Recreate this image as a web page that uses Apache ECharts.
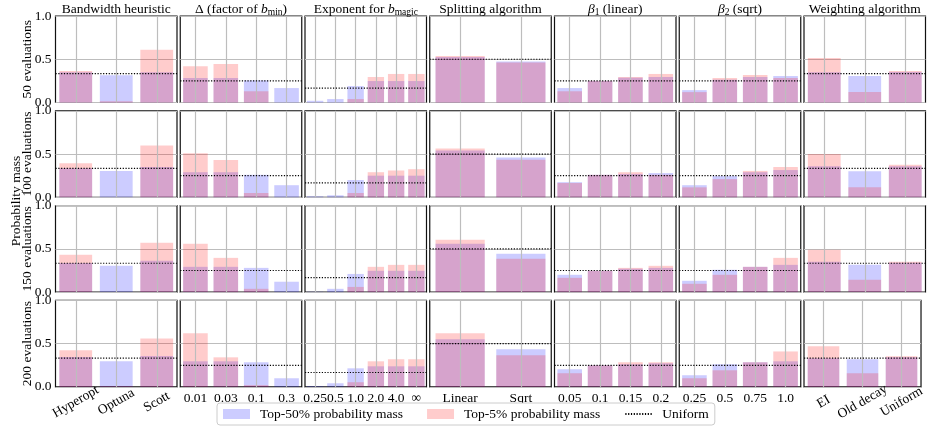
<!DOCTYPE html>
<html><head><meta charset="utf-8">
<script src="https://cdn.jsdelivr.net/npm/echarts@6/dist/echarts.min.js"></script>
<style>html,body{margin:0;padding:0;background:#fff}#c{width:927px;height:431px}</style>
</head><body><div id="c"></div>
<script>
const FONT = '"Liberation Serif", "Times New Roman", serif';
const rowLabels = ['50 evaluations', '100 evaluations', '150 evaluations', '200 evaluations'];

const bandwidthCats = ['Hyperopt', 'Optuna', 'Scott'];
const deltaCats = ['0.01', '0.03', '0.1', '0.3'];
const exponentCats = ['0.25', '0.5', '1.0', '2.0', '4.0', '∞'];
const splitCats = ['Linear', 'Sqrt'];
const beta1Cats = ['0.05', '0.1', '0.15', '0.2'];
const beta2Cats = ['0.25', '0.5', '0.75', '1.0'];
const weightCats = ['EI', 'Old decay', 'Uniform'];

// Top-50% probability mass, one row per evaluation budget (50,100,150,200)
const bandwidthTop50 = [[0.35, 0.315, 0.35], [0.335, 0.305, 0.35], [0.335, 0.304, 0.362], [0.346, 0.296, 0.358]];
const deltaTop50 = [[0.283, 0.283, 0.256, 0.167], [0.29, 0.29, 0.26, 0.14], [0.292, 0.292, 0.28, 0.12], [0.296, 0.296, 0.285, 0.10]];
const exponentTop50 = [[0.02, 0.04, 0.19, 0.248, 0.248, 0.248], [0.012, 0.023, 0.2, 0.25, 0.25, 0.25], [0.005, 0.038, 0.21, 0.246, 0.246, 0.246], [0.01, 0.042, 0.215, 0.238, 0.238, 0.238]];
const splitTop50 = [[0.527, 0.473], [0.54, 0.46], [0.558, 0.442], [0.55, 0.435]];
const beta1Top50 = [[0.167, 0.25, 0.287, 0.295], [0.175, 0.26, 0.27, 0.28], [0.2, 0.246, 0.27, 0.28], [0.204, 0.25, 0.262, 0.273]];
const beta2Top50 = [[0.143, 0.264, 0.295, 0.306], [0.14, 0.245, 0.29, 0.315], [0.131, 0.258, 0.292, 0.315], [0.135, 0.262, 0.285, 0.296]];
const weightTop50 = [[0.35, 0.306, 0.353], [0.36, 0.30, 0.36], [0.35, 0.315, 0.338], [0.33, 0.32, 0.342]];

// Top-5% probability mass
const bandwidthTop5 = [[0.365, 0.015, 0.61], [0.395, 0, 0.6], [0.431, 0, 0.57], [0.423, 0.008, 0.56]];
const deltaTop5 = [[0.42, 0.446, 0.13, 0], [0.51, 0.43, 0.05, 0], [0.558, 0.396, 0.038, 0], [0.62, 0.342, 0.02, 0]];
const exponentTop5 = [[0, 0, 0.04, 0.295, 0.33, 0.33], [0, 0, 0.05, 0.29, 0.31, 0.325], [0, 0, 0.06, 0.292, 0.315, 0.315], [0, 0, 0.054, 0.296, 0.32, 0.32]];
const splitTop5 = [[0.539, 0.461], [0.565, 0.435], [0.604, 0.385], [0.62, 0.365]];
const beta1Top5 = [[0.13, 0.25, 0.295, 0.33], [0.165, 0.26, 0.29, 0.26], [0.165, 0.246, 0.28, 0.304], [0.158, 0.25, 0.285, 0.285]];
const beta2Top5 = [[0.12, 0.283, 0.318, 0.283], [0.115, 0.21, 0.305, 0.35], [0.096, 0.2, 0.292, 0.396], [0.1, 0.192, 0.285, 0.41]];
const weightTop5 = [[0.515, 0.12, 0.364], [0.5, 0.115, 0.375], [0.49, 0.142, 0.35], [0.47, 0.158, 0.354]];

// Uniform reference level per panel
const uniformLevels = [1 / 3, 1 / 4, 1 / 6, 1 / 2, 1 / 4, 1 / 4, 1 / 3];

const panelTitles = [
  'Bandwidth heuristic',
  'Δ (factor of {i|b}{s|min})',
  'Exponent for {i|b}{s|magic}',
  'Splitting algorithm',
  '{i|β}{s|1} (linear)',
  '{i|β}{s|2} (sqrt)',
  'Weighting algorithm'
];

const panels = [
  { cats: bandwidthCats, top50: bandwidthTop50, top5: bandwidthTop5, rotate: true },
  { cats: deltaCats, top50: deltaTop50, top5: deltaTop5 },
  { cats: exponentCats, top50: exponentTop50, top5: exponentTop5 },
  { cats: splitCats, top50: splitTop50, top5: splitTop5 },
  { cats: beta1Cats, top50: beta1Top50, top5: beta1Top5 },
  { cats: beta2Cats, top50: beta2Top50, top5: beta2Top5 },
  { cats: weightCats, top50: weightTop50, top5: weightTop5, rotate: true }
];

const COL_LEFT0 = 55.5, COL_STEP = 124.75, COL_W = 121.5;
const ROW_TOP0 = 16, ROW_STEP = 94.8, ROW_H = 86.5;

const grids = [], xAxes = [], yAxes = [], series = [], titles = [], graphics = [];
const richSub = {
  i: { fontFamily: FONT, fontSize: 13.5, fontStyle: 'italic', color: '#000', lineHeight: 16 },
  s: { fontFamily: FONT, fontSize: 9.5, color: '#000', lineHeight: 9, verticalAlign: 'bottom' }
};

panels.forEach((p, c) => {
  titles.push({
    text: panelTitles[c],
    left: COL_LEFT0 + c * COL_STEP + COL_W / 2,
    top: 1,
    textAlign: 'center',
    padding: 0,
    textStyle: { fontFamily: FONT, fontSize: 13.5, fontWeight: 'normal', color: '#000', lineHeight: 16, rich: richSub }
  });
  for (let r = 0; r < 4; r++) {
    const g = grids.length;
    grids.push({
      left: COL_LEFT0 + c * COL_STEP, top: ROW_TOP0 + r * ROW_STEP,
      width: COL_W, height: ROW_H,
      show: true, borderColor: '#111', borderWidth: 1.2, backgroundColor: 'transparent'
    });
    const bottom = r === 3;
    xAxes.push({
      type: 'category', gridIndex: g, data: p.cats,
      axisLine: { show: false }, axisTick: { show: false }, splitLine: { show: false },
      axisLabel: p.rotate ? {
        show: bottom, interval: 0, rotate: 30, align: 'center', verticalAlign: 'middle', margin: 15,
        fontFamily: FONT, fontSize: 13.5, color: '#000', hideOverlap: false
      } : {
        show: bottom, interval: 0, margin: 5, fontFamily: FONT, fontSize: 13.5, color: '#000', hideOverlap: false
      }
    });
    xAxes.push({ type: 'value', gridIndex: g, min: 0, max: 1, show: false });
    yAxes.push({
      type: 'value', gridIndex: g, min: 0, max: 1, interval: 0.5,
      axisLine: { show: false }, axisTick: { show: false },
      axisLabel: { show: c === 0, formatter: v => v.toFixed(1), fontFamily: FONT, fontSize: 13.5, color: '#000', margin: 4 },
      splitLine: { show: true, lineStyle: { color: '#bdbdbd', width: 1.2 } }
    });
    series.push({
      type: 'bar', name: 'Top-50% probability mass', xAxisIndex: 2 * g, yAxisIndex: g,
      data: p.top50[r], barCategoryGap: '19%', barGap: '-100%',
      itemStyle: { color: 'rgba(0,0,255,0.2)' }, silent: true,
      markLine: {
        silent: true, symbol: ['none', 'none'], label: { show: false },
        lineStyle: { color: '#bdbdbd', width: 1.2, type: 'solid' },
        data: p.cats.map(cat => ({ xAxis: cat }))
      }
    });
    series.push({
      type: 'bar', name: 'Top-5% probability mass', xAxisIndex: 2 * g, yAxisIndex: g,
      data: p.top5[r], barCategoryGap: '19%', barGap: '-100%',
      itemStyle: { color: 'rgba(255,0,0,0.2)' }, silent: true
    });
    series.push({
      type: 'line', name: 'Uniform', xAxisIndex: 2 * g + 1, yAxisIndex: g,
      data: [[0, uniformLevels[c]], [1, uniformLevels[c]]],
      symbol: 'none', showSymbol: false, silent: true, z: 5,
      itemStyle: { color: '#000', opacity: 0 },
      lineStyle: { color: '#000', width: 1.2, type: [1.2, 1.6], opacity: 1 }
    });
  }
});

rowLabels.forEach((lbl, r) => {
  graphics.push({
    type: 'text', x: 27.5, y: ROW_TOP0 + r * ROW_STEP + ROW_H / 2, rotation: Math.PI / 2,
    style: { text: lbl, font: '13.5px ' + FONT, fill: '#000', textAlign: 'center', textVerticalAlign: 'middle' }
  });
});
graphics.push({
  type: 'text', x: 16.5, y: 201, rotation: Math.PI / 2,
  style: { text: 'Probability mass', font: '13.5px ' + FONT, fill: '#000', textAlign: 'center', textVerticalAlign: 'middle' }
});

const chart = echarts.init(document.getElementById('c'), null, { renderer: 'canvas' });
chart.setOption({
  animation: false,
  backgroundColor: '#fff',
  title: titles,
  grid: grids, xAxis: xAxes, yAxis: yAxes, series: series,
  legend: {
    left: 217, top: 403, padding: [4, 6, 4, 6], itemGap: 24, itemWidth: 27, itemHeight: 10,
    borderColor: '#cccccc', borderWidth: 1, borderRadius: 3, backgroundColor: '#fff',
    textStyle: { fontFamily: FONT, fontSize: 13.5, color: '#000', padding: [0, 0, 0, 5] },
    data: [
      { name: 'Top-50% probability mass', icon: 'rect' },
      { name: 'Top-5% probability mass', icon: 'rect' },
      { name: 'Uniform' }
    ]
  },
  graphic: graphics
});
</script></body></html>
